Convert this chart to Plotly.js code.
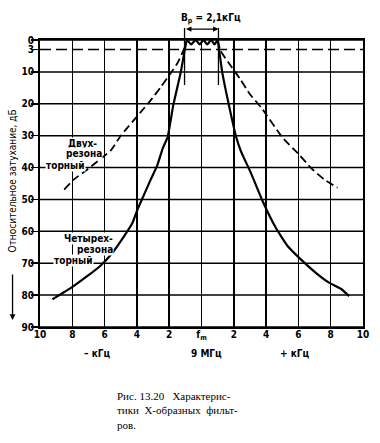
<!DOCTYPE html>
<html><head><meta charset="utf-8">
<script src="https://cdn.plot.ly/plotly-3.0.1.min.js"></script>
<style>body{margin:0;background:#fff}#c{width:380px;height:443px}</style>
</head><body><div id="c"></div>
<script>
// Frequency offset from f_m, kHz ; attenuation, dB
const fourResX = [-9.23,-7.99,-7.06,-6.24,-5.51,-4.79,-4.27,-3.96,-3.55,-3.14,-2.75,-2.4,-2.1,-1.75,-1.28,-1.05,-0.9,-0.64,-0.37,-0.1,0.12,0.35,0.6,0.8,1.0,1.1,1.28,1.7,2.15,2.45,3.05,3.78,4.6,5.33,6.15,7.08,7.9,8.63,9.14];
const fourResY = [81.3,77.4,74.0,70.7,66.7,61.5,57.3,53.1,48.4,43.7,39.5,34,30.5,20.5,10,3.5,0,1.4,0,1.4,0,1.4,0,1.4,0,3.5,10,20.5,30.5,35,41.6,50.5,58.9,64.6,68.8,73.0,76.1,78.0,80.3];
const twoResX = [-8.5,-7.89,-7.07,-5.6,-5.0,-3.78,-3.16,-2.5,-1.92,-1.46,-1.1,-0.9,null,1.0,1.18,1.8,2.4,3.0,3.7,5.0,6.04,6.77,7.59,8.42];
const twoResY = [46.9,43.7,40.6,34.5,30,22.7,19,14.6,10.5,7,3,0,null,0,3.4,8,12.3,17,21.2,30.5,35.9,40.1,43.7,46.3];
const xTickVals = [-10,-8,-6,-4,-2,0,2,4,6,8,10];
const xTickText = ['10','8','6','4','2','f<sub>m</sub>','2','4','6','8','10'];
const yTickVals = [0,3,10,20,30,40,50,60,70,80,90];
const yTickText = ['0','3','10','20','30','40','50','60','70','80','90'];
const yDashed = [3];
const bandEdges = [-1.05, 1.05];
const bandText = 'B<sub>p</sub> = 2,1кГц';
const X_RANGE = [-10, 10];

const NARROW = '"Liberation Sans Narrow","DejaVu Sans Condensed","Arial Narrow",sans-serif';
const SERIF = '"Liberation Serif","DejaVu Serif",serif';
const toPaperX = v => (v - X_RANGE[0]) / (X_RANGE[1] - X_RANGE[0]);

const shapes = [];
yTickVals.forEach(v => {
  shapes.push({type:'line', xref:'paper', yref:'y', x0:0, x1:1, y0:v, y1:v,
    line:{color:'#000', width:1.5, dash: yDashed.includes(v) ? '11px,5px' : 'solid'}, layer:'below'});
});
bandEdges.forEach(b => {
  shapes.push({type:'line', xref:'paper', yref:'paper', x0:toPaperX(b), x1:toPaperX(b), y0:0.843, y1:1.042,
    line:{color:'#000', width:1.3}});
});

const ann = [];
function lab(t, x, y) {
  ann.push({text:t, x:x, y:y, xref:'x', yref:'y', showarrow:false, xanchor:'center', yanchor:'middle',
    font:{family:NARROW, size:10, color:'#000', weight:'bold'}, bgcolor:'#fff', borderpad:0});
}
lab('Двух-', -7.35, 32.4);
lab('резона', -7.3, 35.6);
lab('торный', -8.4, 39.3);
lab('Четырех-', -6.97, 62.2);
lab('резона', -6.6, 65.8);
lab('торный', -7.9, 69.3);
// band width
ann.push({text:bandText, xref:'paper', yref:'paper', x:toPaperX(0.6), y:1.075, xanchor:'center', yanchor:'middle',
  showarrow:false, font:{family:NARROW, size:10, color:'#000', weight:'bold'}});
ann.push({text:'', xref:'paper', yref:'paper', x:toPaperX(bandEdges[1]), y:1.038, axref:'pixel', ayref:'pixel',
  ax:-(toPaperX(bandEdges[1]) - toPaperX(bandEdges[0])) * 323, ay:0, showarrow:true, arrowside:'end+start', arrowhead:2, arrowsize:0.9,
  arrowwidth:1.2, standoff:0, startstandoff:0, arrowcolor:'#000'});
// below axis
[['– кГц',0.176],['9 МГц',0.517],['+ кГц',0.789]].forEach(a => {
  ann.push({text:a[0], xref:'paper', yref:'paper', x:a[1], y:-0.091, xanchor:'center', yanchor:'middle', showarrow:false,
    font:{family:NARROW, size:10, color:'#000', weight:'bold'}});
});
// y title
ann.push({text:'Относительное затухание, дБ', xref:'paper', yref:'paper', x:-0.085, y:0.509,
  xanchor:'center', yanchor:'middle', textangle:-90, showarrow:false, font:{family:NARROW, size:10, color:'#000'}});
ann.push({text:'', xref:'paper', yref:'paper', x:-0.085, y:0.024, ax:0, ay:-47,
  showarrow:true, arrowhead:2, arrowsize:0.9, arrowwidth:1.3, standoff:0, arrowcolor:'#000'});
// caption
ann.push({text:'Рис. 13.20   Характерис-<br>тики  X-образных  фильт-<br>ров.', xref:'paper', yref:'paper',
  x:(115-40)/323, y:(327-410)/287, xanchor:'left', yanchor:'middle', align:'left', showarrow:false,
  font:{family:SERIF, size:11, color:'#000'}});

const data = [
  {x:fourResX, y:fourResY, type:'scatter', mode:'lines', line:{color:'#000', width:2.2, shape:'spline', smoothing:0.4}, hoverinfo:'skip'},
  {x:twoResX, y:twoResY, type:'scatter', mode:'lines', connectgaps:false, line:{color:'#000', width:1.8, dash:'8px,4px', shape:'spline', smoothing:0.4}, hoverinfo:'skip'}
];

const layout = {
  width:380, height:443, margin:{l:40, r:17, t:40, b:116},
  paper_bgcolor:'#fff', plot_bgcolor:'#fff', showlegend:false,
  xaxis:{range:X_RANGE, tickvals:xTickVals, ticktext:xTickText, showgrid:true, gridcolor:'#000', gridwidth:1.5,
    zeroline:false, showline:true, mirror:true, linecolor:'#000', linewidth:2, ticks:'', ticklabelstandoff:-3,
    tickfont:{family:NARROW, size:10, color:'#000', weight:'bold'}},
  yaxis:{range:[90,0], tickvals:yTickVals, ticktext:yTickText, showgrid:false, zeroline:false,
    showline:true, mirror:true, linecolor:'#000', linewidth:2, ticks:'outside', ticklen:7, tickwidth:1.5, tickcolor:'#000',
    ticklabelstandoff:-5, tickfont:{family:NARROW, size:10, color:'#000', weight:'bold'}},
  shapes:shapes, annotations:ann
};
Plotly.newPlot('c', data, layout, {staticPlot:true, displayModeBar:false});
</script></body></html>
